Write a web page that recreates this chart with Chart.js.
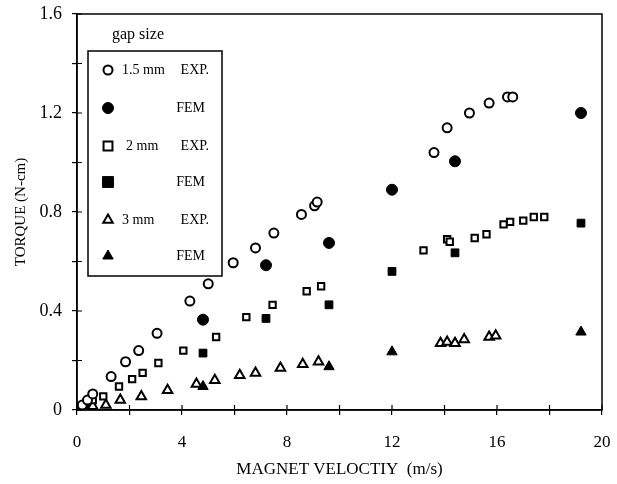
<!DOCTYPE html>
<html><head><meta charset="utf-8">
<script src="https://cdn.jsdelivr.net/npm/chart.js@4"></script>
<style>html,body{margin:0;padding:0;background:#fff}</style>
</head><body>
<canvas id="c" width="617" height="484" style="width:617px;height:484px;display:block"></canvas>
<script>
// ---- data ----
const exp15X = [0.2, 0.4, 0.6, 1.3, 1.85, 2.35, 3.05, 4.3, 5.0, 5.95, 6.8, 7.5, 8.55, 9.05, 9.15, 13.6, 14.1, 14.95, 15.7, 16.4, 16.6];
const exp15Y = [0.02, 0.04, 0.065, 0.135, 0.195, 0.24, 0.31, 0.44, 0.51, 0.595, 0.655, 0.715, 0.79, 0.825, 0.84, 1.04, 1.14, 1.2, 1.24, 1.265, 1.265];
const fem15X = [0, 4.8, 7.2, 9.6, 12.0, 14.4, 19.2];
const fem15Y = [0, 0.365, 0.585, 0.675, 0.89, 1.005, 1.2];
const exp2X = [0.3, 0.6, 1.0, 1.6, 2.1, 2.5, 3.1, 4.05, 5.3, 6.45, 7.45, 8.75, 9.3, 13.2, 14.1, 14.2, 15.15, 15.6, 16.25, 16.5, 17.0, 17.4, 17.8];
const exp2Y = [0.02, 0.04, 0.055, 0.095, 0.125, 0.15, 0.19, 0.24, 0.295, 0.375, 0.425, 0.48, 0.5, 0.645, 0.69, 0.68, 0.695, 0.71, 0.75, 0.76, 0.765, 0.78, 0.78];
const fem2X = [0, 4.8, 7.2, 9.6, 12.0, 14.4, 19.2];
const fem2Y = [0, 0.23, 0.37, 0.425, 0.56, 0.635, 0.755];
const exp3X = [0.3, 0.6, 1.1, 1.65, 2.45, 3.45, 4.55, 5.25, 6.2, 6.8, 7.75, 8.6, 9.2, 13.85, 14.1, 14.4, 14.75, 15.7, 15.95];
const exp3Y = [0.01, 0.015, 0.02, 0.04, 0.055, 0.08, 0.105, 0.12, 0.14, 0.15, 0.17, 0.185, 0.195, 0.27, 0.275, 0.27, 0.285, 0.295, 0.3];
const fem3X = [0, 4.8, 9.6, 12.0, 14.4, 19.2];
const fem3Y = [0, 0.095, 0.175, 0.235, 0.27, 0.315];

const xTickLabels = ['0', '4', '8', '12', '16', '20'];
const yTickLabels = ['0', '0.4', '0.8', '1.2', '1.6'];
const legendTitle = 'gap size';
const seriesLabels = ['1.5 mm', 'FEM', '2 mm', 'FEM', '3 mm', 'FEM'];
const xTitle = 'MAGNET VELOCTIY  (m/s)';
const yTitle = 'TORQUE (N-cm)';

const FONT = "'Liberation Serif', 'DejaVu Serif', serif";
const pts = (xs, ys) => xs.map((x, i) => ({x: x, y: ys[i]}));

const openStyle = (style, r) => ({pointStyle: style, pointRadius: r, pointBackgroundColor: '#fff', pointBorderColor: '#000', pointBorderWidth: 2, showLine: false});
const fillStyle = (style, r) => ({pointStyle: style, pointRadius: r, pointBackgroundColor: '#000', pointBorderColor: '#000', pointBorderWidth: 1, showLine: false});

const datasets = [
  Object.assign({label: seriesLabels[0] + ' EXP.', data: pts(exp15X, exp15Y)}, openStyle('circle', 4.5)),
  Object.assign({label: seriesLabels[2] + ' EXP.', data: pts(exp2X, exp2Y)}, openStyle('rect', 4.5)),
  Object.assign({label: seriesLabels[4] + ' EXP.', data: pts(exp3X, exp3Y)}, openStyle('triangle', 5.5)),
  Object.assign({label: 'FEM 1.5', data: pts(fem15X, fem15Y)}, fillStyle('circle', 5.5)),
  Object.assign({label: 'FEM 2', data: pts(fem2X, fem2Y)}, fillStyle('rect', 5.5)),
  Object.assign({label: 'FEM 3', data: pts(fem3X, fem3Y)}, fillStyle('triangle', 6)),
];
const legendOrder = [0, 3, 1, 4, 2, 5];

const zeroPad = (s) => { s.paddingLeft = 0; s.paddingRight = 0; s.paddingTop = 0; s.paddingBottom = 0; };

const framePlugin = {
  id: 'frame',
  beforeDatasetsDraw(chart) {
    const {ctx, chartArea: a, scales} = chart;
    ctx.save();
    ctx.strokeStyle = '#000';
    ctx.lineWidth = 1.5;
    ctx.strokeRect(a.left, a.top, a.right - a.left, a.bottom - a.top);
    ctx.lineWidth = 1.2;
    ctx.beginPath();
    scales.x.ticks.forEach((t, i) => {
      const px = scales.x.getPixelForTick(i);
      ctx.moveTo(px, a.bottom); ctx.lineTo(px, a.bottom - 5);
    });
    scales.y.ticks.forEach((t, i) => {
      const py = scales.y.getPixelForTick(i);
      ctx.moveTo(a.left, py); ctx.lineTo(a.left + 5, py);
    });
    ctx.stroke();
    ctx.restore();
  },
  afterDatasetsDraw(chart) {
    const ctx = chart.ctx;
    ctx.save();
    ctx.fillStyle = '#000';
    ctx.font = "16px " + FONT;
    ctx.textBaseline = 'middle';
    ctx.textAlign = 'left';
    ctx.fillText(legendTitle, 112, 35);
    ctx.fillStyle = '#fff';
    ctx.fillRect(88, 51, 134, 225);
    ctx.strokeStyle = '#000';
    ctx.lineWidth = 1.5;
    ctx.strokeRect(88, 51, 134, 225);
    const rows = [70, 108, 146, 182, 220, 256];
    ctx.font = "14px " + FONT;
    legendOrder.forEach((di, k) => {
      const ds = chart.data.datasets[di];
      const y = rows[k];
      const x = 108;
      ctx.fillStyle = ds.pointBackgroundColor;
      ctx.strokeStyle = ds.pointBorderColor;
      ctx.lineWidth = ds.pointBorderWidth;
      ctx.beginPath();
      const r = ds.pointRadius;
      if (ds.pointStyle === 'circle') { ctx.arc(x, y, r, 0, Math.PI * 2); }
      else if (ds.pointStyle === 'rect') { const s = r / Math.SQRT2 * 1.4; ctx.rect(x - s, y - s, 2 * s, 2 * s); }
      else { ctx.moveTo(x, y - r); ctx.lineTo(x + r * 0.866, y + r * 0.5); ctx.lineTo(x - r * 0.866, y + r * 0.5); ctx.closePath(); }
      ctx.fill(); ctx.stroke();
      ctx.fillStyle = '#000';
      if (k % 2 === 0) {
        ctx.textAlign = 'left';
        ctx.fillText(seriesLabels[k], k === 2 ? 126 : 122, y);
        ctx.textAlign = 'right';
        ctx.fillText('EXP.', 209, y);
      } else {
        ctx.textAlign = 'right';
        ctx.fillText(seriesLabels[k], 205, y);
      }
    });
    ctx.restore();
  }
};

new Chart(document.getElementById('c'), {
  type: 'scatter',
  data: {datasets: datasets},
  plugins: [framePlugin],
  options: {
    responsive: false,
    animation: false,
    events: [],
    layout: {padding: {top: 14, right: 15, left: 0, bottom: 0}},
    plugins: {legend: {display: false}, tooltip: {enabled: false}},
    scales: {
      x: {
        type: 'linear', min: 0, max: 20,
        afterFit(s) { s.height = 74; zeroPad(s); },
        border: {display: true, color: '#000', width: 1.5},
        grid: {drawOnChartArea: false, drawTicks: true, tickLength: 5, color: '#000', lineWidth: 1.2},
        ticks: {
          stepSize: 2, color: '#000', padding: 17, maxRotation: 0, autoSkip: false,
          font: {family: FONT, size: 17},
          callback: (v) => { const i = xTickLabels.indexOf(String(v)); return i >= 0 ? xTickLabels[i] : ''; }
        },
        title: {display: true, text: xTitle, color: '#000', font: {family: FONT, size: 17}, padding: {top: 8, bottom: 4}}
      },
      y: {
        type: 'linear', min: 0, max: 1.6,
        afterFit(s) { s.width = 77; zeroPad(s); },
        border: {display: true, color: '#000', width: 1.5},
        grid: {drawOnChartArea: false, drawTicks: true, tickLength: 5, color: '#000', lineWidth: 1.2},
        ticks: {
          stepSize: 0.2, color: '#000', padding: 10, autoSkip: false,
          font: {family: FONT, size: 18},
          callback: (v) => { const s = String(Math.round(v * 10) / 10); return yTickLabels.indexOf(s) >= 0 ? s : ''; }
        },
        title: {display: true, text: yTitle, color: '#000', font: {family: FONT, size: 15}, padding: {top: 12, bottom: 0}}
      }
    }
  }
});
</script>
</body></html>
